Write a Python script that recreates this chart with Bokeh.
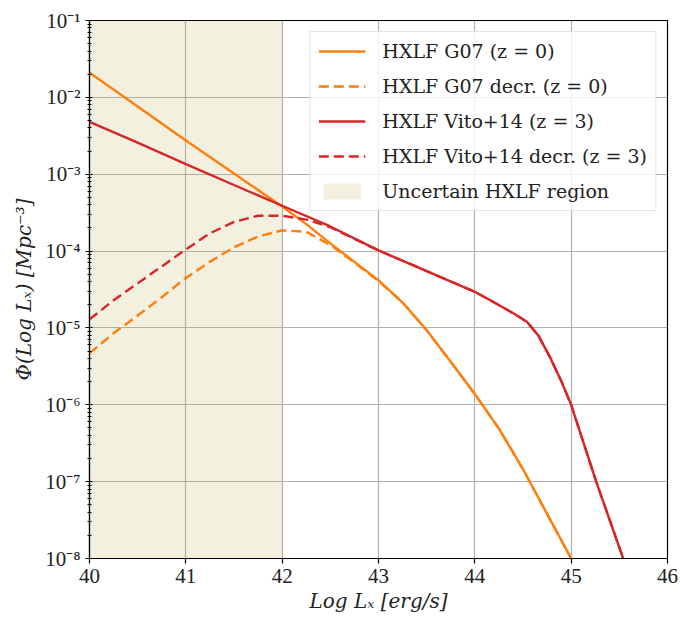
from bokeh.plotting import figure
from bokeh.models import FixedTicker, CustomJSTickFormatter, Range1d, Legend, LegendItem
from bokeh.embed import file_html
from bokeh.resources import INLINE

# ---------------- data ----------------
lx_g07 = [40.0, 40.5, 41.0, 41.5, 42.0, 42.25, 42.5, 42.75, 43.0, 43.25, 43.5,
          43.75, 44.0, 44.25, 44.5, 44.75, 45.0]
phi_g07 = [2.09e-2, 7.59e-3, 2.75e-3, 1.02e-3, 3.80e-4, 2.24e-4, 1.26e-4, 7.24e-5,
           4.17e-5, 2.14e-5, 9.33e-6, 3.63e-6, 1.38e-6, 4.90e-7, 1.45e-7, 3.80e-8, 1.0e-8]

lx_g07_decr = [40.0, 40.25, 40.5, 40.75, 41.0, 41.25, 41.5, 41.75, 42.0, 42.25, 42.5,
               42.75, 43.0, 43.25, 43.5, 43.75, 44.0, 44.25, 44.5, 44.75, 45.0]
phi_g07_decr = [4.68e-6, 8.51e-6, 1.45e-5, 2.51e-5, 4.47e-5, 7.24e-5, 1.12e-4, 1.55e-4,
                1.86e-4, 1.78e-4, 1.20e-4, 7.08e-5, 4.07e-5, 2.14e-5, 9.33e-6, 3.63e-6,
                1.38e-6, 4.90e-7, 1.45e-7, 3.80e-8, 1.0e-8]

lx_vito = [40.0, 40.5, 41.0, 41.5, 42.0, 42.5, 43.0, 43.5, 44.0, 44.16, 44.4, 44.54,
           44.66, 44.78, 44.9, 45.0, 45.26, 45.54]
phi_vito = [4.79e-3, 2.57e-3, 1.35e-3, 7.24e-4, 3.89e-4, 2.09e-4, 1.02e-4, 5.50e-5,
            2.95e-5, 2.29e-5, 1.55e-5, 1.20e-5, 7.94e-6, 4.17e-6, 2.0e-6, 1.0e-6,
            1.0e-7, 1.0e-8]

lx_vito_decr = [40.0, 40.25, 40.5, 40.75, 41.0, 41.25, 41.5, 41.75, 42.0, 42.25, 42.5,
                43.0, 43.5, 44.0, 44.16, 44.4, 44.54, 44.66, 44.78, 44.9, 45.0, 45.26, 45.54]
phi_vito_decr = [1.29e-5, 2.29e-5, 3.80e-5, 6.31e-5, 1.05e-4, 1.70e-4, 2.40e-4, 2.88e-4,
                 2.88e-4, 2.57e-4, 2.04e-4, 1.02e-4, 5.50e-5, 2.95e-5, 2.29e-5, 1.55e-5,
                 1.20e-5, 7.94e-6, 4.17e-6, 2.0e-6, 1.0e-6, 1.0e-7, 1.0e-8]

uncertain_lx = [40.0, 42.0]
x_limits = [40.0, 46.0]
y_limits = [1e-8, 1e-1]
x_ticks = [40, 41, 42, 43, 44, 45, 46]
y_ticks = [1e-8, 1e-7, 1e-6, 1e-5, 1e-4, 1e-3, 1e-2, 1e-1]
y_minor_ticks = [k * t for t in y_ticks[:-1] for k in range(2, 10)]

labels = ["HXLF G07 (z = 0)", "HXLF G07 decr. (z = 0)", "HXLF Vito+14 (z = 3)",
          "HXLF Vito+14 decr. (z = 3)", "Uncertain HXLF region"]

ORANGE = "#ff7f0e"
RED = "#d62728"
TICK_FONT = "Liberation Serif"
TEXT_FONT = "DejaVu Serif"

p = figure(width=680, height=617,
           x_range=Range1d(*x_limits), y_range=Range1d(*y_limits),
           y_axis_type="log", output_backend="svg", toolbar_location=None,
           min_border_left=89, min_border_right=13, min_border_top=20,
           min_border_bottom=59)

p.background_fill_color = "white"
p.border_fill_color = "white"
p.outline_line_color = "black"
p.outline_line_width = 1.2
p.outline_line_alpha = 1.0

shade = p.quad(left=uncertain_lx[0], right=uncertain_lx[1], bottom=y_limits[0],
               top=y_limits[1], fill_color="#c8b464", fill_alpha=0.2, line_color=None)

r1 = p.line(lx_g07, phi_g07, line_color=ORANGE, line_width=2.4)
r2 = p.line(lx_g07_decr, phi_g07_decr, line_color=ORANGE, line_width=2.4, line_dash="10 5")
r3 = p.line(lx_vito, phi_vito, line_color=RED, line_width=2.4)
r4 = p.line(lx_vito_decr, phi_vito_decr, line_color=RED, line_width=2.4, line_dash="10 5")

# axes
p.xaxis.ticker = FixedTicker(ticks=x_ticks)
p.yaxis.ticker = FixedTicker(ticks=y_ticks, minor_ticks=y_minor_ticks)
p.yaxis.formatter = CustomJSTickFormatter(code="""
const e = Math.round(Math.log10(tick));
const sup = {'-':'\u207b','0':'\u2070','1':'\u00b9','2':'\u00b2','3':'\u00b3','4':'\u2074',
             '5':'\u2075','6':'\u2076','7':'\u2077','8':'\u2078','9':'\u2079'};
return '10' + String(e).split('').map(c => sup[c]).join('');
""")

for ax in (p.xaxis, p.yaxis):
    ax.axis_line_color = "black"
    ax.axis_line_width = 1.2
    ax.major_tick_line_color = "black"
    ax.major_tick_line_width = 1.2
    ax.major_label_text_font = TICK_FONT
    ax.major_label_text_font_size = "21px"
    ax.major_label_text_color = "#222222"
    ax.axis_label_text_font = TEXT_FONT
    ax.axis_label_text_font_size = "20px"
    ax.axis_label_text_font_style = "italic"
    ax.axis_label_text_color = "#222222"

p.xaxis.major_tick_in = 0
p.xaxis.major_tick_out = 5
p.xaxis.minor_tick_line_color = None
p.xaxis.major_label_standoff = 5
p.xaxis.axis_label_standoff = 3
p.xaxis.axis_label = "Log L\u2093 [erg/s]"

p.yaxis.major_tick_in = 3
p.yaxis.major_tick_out = 4
p.yaxis.minor_tick_in = 2
p.yaxis.minor_tick_out = 2
p.yaxis.minor_tick_line_color = "black"
p.yaxis.minor_tick_line_width = 1.0
p.yaxis.major_label_standoff = 5
p.yaxis.axis_label_standoff = 6
p.yaxis.axis_label = "\u03a6(Log L\u2093) [Mpc\u207b\u00b3]"

for g in (p.xgrid, p.ygrid):
    g.grid_line_color = "#b0b0b0"
    g.grid_line_width = 1.2
p.xgrid.ticker = FixedTicker(ticks=x_ticks)
p.ygrid.ticker = FixedTicker(ticks=y_ticks)

legend = Legend(items=[
    LegendItem(label=labels[0], renderers=[r1]),
    LegendItem(label=labels[1], renderers=[r2]),
    LegendItem(label=labels[2], renderers=[r3]),
    LegendItem(label=labels[3], renderers=[r4]),
    LegendItem(label=labels[4], renderers=[shade]),
], location="top_right")
legend.label_text_font = TEXT_FONT
legend.label_text_font_size = "19px"
legend.label_text_color = "#222222"
legend.glyph_width = 47
legend.glyph_height = 20
legend.label_height = 20
legend.label_standoff = 17
legend.spacing = 13
legend.padding = 8
legend.margin = 11
legend.border_line_color = "#cccccc"
legend.border_line_width = 1
legend.background_fill_alpha = 0.8
p.add_layout(legend)

open("out.html", "w").write(file_html(p, INLINE))
